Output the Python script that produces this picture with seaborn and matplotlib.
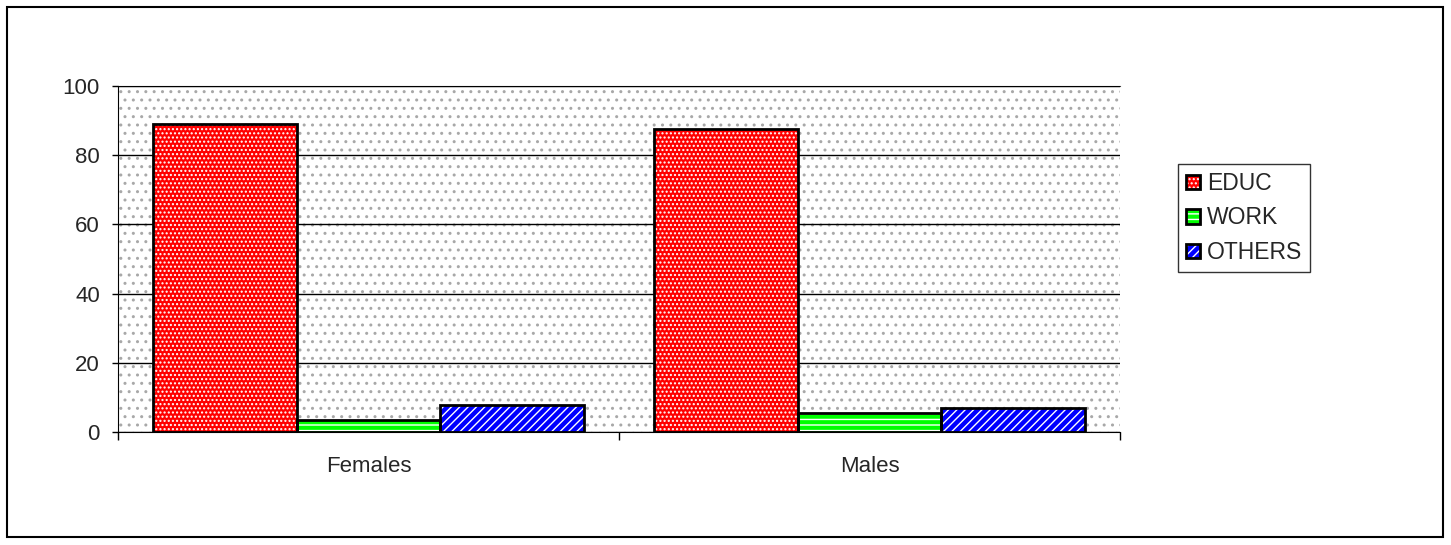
import matplotlib
matplotlib.use('Agg')
import matplotlib.pyplot as plt
from matplotlib.patches import Rectangle, Patch
import pandas as pd
import seaborn as sns

# data
groups = ['Females', 'Males']
series = ['EDUC', 'WORK', 'OTHERS']
educ = [89.0, 87.5]
work = [3.5, 5.5]
others = [7.8, 6.8]
y_ticks = [0, 20, 40, 60, 80, 100]

colors = {'EDUC': '#ff0000', 'WORK': '#00ff00', 'OTHERS': '#0000ff'}
hatches = {'EDUC': '....', 'WORK': '---', 'OTHERS': '////'}

df = pd.DataFrame({
    'group': groups * 3,
    'series': ['EDUC'] * 2 + ['WORK'] * 2 + ['OTHERS'] * 2,
    'value': educ + work + others,
})

sns.set_style('white')
plt.rcParams['font.family'] = ['Liberation Sans', 'DejaVu Sans']
plt.rcParams['hatch.linewidth'] = 1.0

fig = plt.figure(figsize=(14.51, 5.45), dpi=100)
ax = fig.add_axes([118 / 1451, 1 - 432 / 545, (1120 - 118) / 1451, (432 - 86) / 545])

# dotted plot-area background
bg = Rectangle((0, 0), 1, 1, transform=ax.transAxes, facecolor='white',
               edgecolor='#a8a8a8', hatch='..', linewidth=0, zorder=0)
ax.add_patch(bg)

sns.barplot(data=df, x='group', y='value', hue='series', hue_order=series,
            order=groups, palette=colors, width=0.86, gap=0, ax=ax,
            legend=False, zorder=3)

# white hatch on the fill, black outline drawn on top
for name, cont in zip(series, ax.containers):
    for bar in cont:
        bar.set_facecolor(colors[name])
        bar.set_edgecolor('white')
        bar.set_linewidth(0)
        bar.set_hatch(hatches[name])
        x, y = bar.get_xy()
        ax.add_patch(Rectangle((x, y), bar.get_width(), bar.get_height(),
                               fill=False, edgecolor='black', linewidth=2, zorder=4))

ax.set_ylim(0, 100)
ax.set_xlim(-0.5, 1.5)
ax.set_yticks(y_ticks)
ax.yaxis.grid(True, color='black', linewidth=1)
ax.set_axisbelow(False)
for gl in ax.get_ygridlines():
    gl.set_zorder(1)
ax.set_xlabel('')
ax.set_ylabel('')

ax.spines['right'].set_visible(False)
ax.spines['top'].set_color('#444444')
ax.spines['left'].set_color('black')
ax.spines['bottom'].set_color('black')
ax.spines['left'].set_zorder(5)
ax.spines['bottom'].set_zorder(5)

ax.tick_params(axis='y', which='major', direction='out', length=4.5, width=1,
               color='black', labelsize=16, pad=8.5, left=True)
ax.tick_params(axis='x', which='major', length=0, labelsize=16, pad=17)
ax.set_xticks([-0.5, 0.5, 1.5], minor=True)
ax.tick_params(axis='x', which='minor', direction='out', length=6, width=1,
               color='black', bottom=True)

handles = []
for name in series:
    fill = Patch(facecolor=colors[name], edgecolor='white', linewidth=0, hatch=hatches[name])
    edge = Patch(fill=False, edgecolor='black', linewidth=2)
    handles.append((fill, edge))
leg = fig.legend(handles, series, loc='upper left',
                 bbox_to_anchor=(1178 / 1451, 1 - 164 / 545),
                 frameon=True, fancybox=False, fontsize=16.5,
                 handlelength=0.6, handleheight=0.6, handletextpad=0.3,
                 borderpad=0.35, borderaxespad=0, labelspacing=0.5)
leg.get_frame().set_edgecolor('black')
leg.get_frame().set_linewidth(1)

# outer chart border
fig.patches.append(Rectangle((7 / 1451, 8 / 545), 1436 / 1451, 530 / 545,
                             transform=fig.transFigure, fill=False,
                             edgecolor='black', linewidth=1.5))

fig.savefig('out.png', dpi=100)
